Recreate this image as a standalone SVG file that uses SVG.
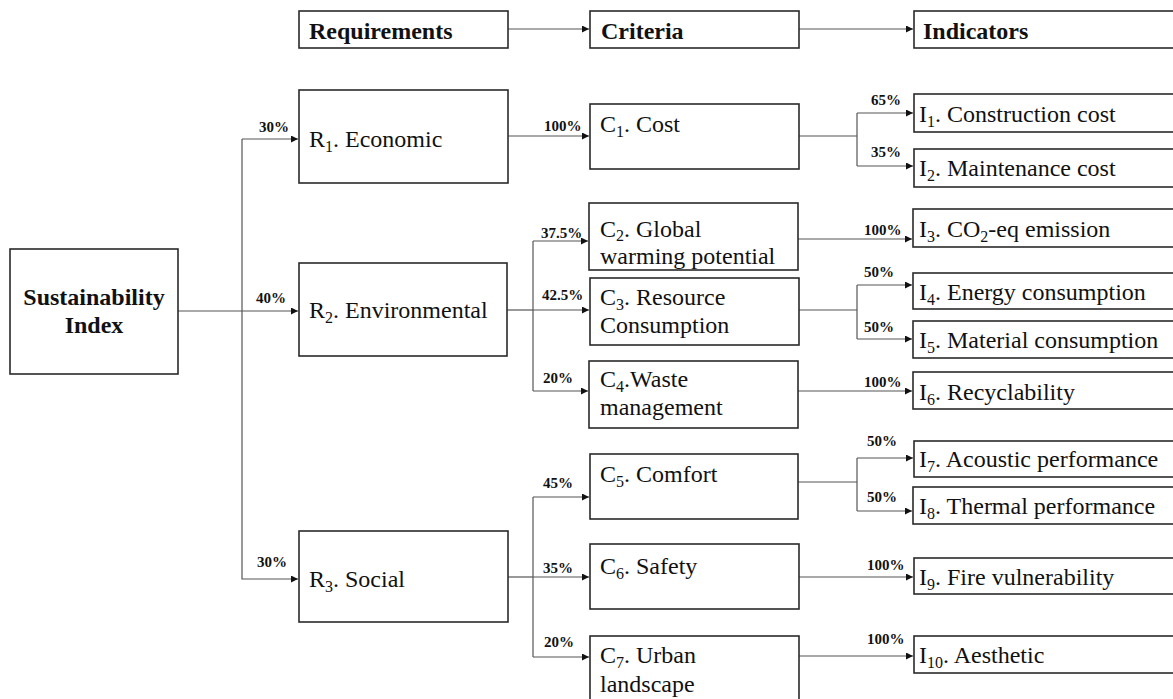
<svg xmlns="http://www.w3.org/2000/svg" width="1173" height="699" viewBox="0 0 1173 699">
<style>
.box{fill:#fff;stroke:#2a2a2a;stroke-width:1.6}
.t{font-size:24px;fill:#111}
.b{font-size:24px;font-weight:bold;fill:#111}
.p{font-size:15px;font-weight:bold;fill:#111}
.s{font-size:16px}
.c{fill:none;stroke:#555;stroke-width:1.2}
</style>
<defs>
<marker id="ah" markerUnits="userSpaceOnUse" markerWidth="8" markerHeight="8" refX="7" refY="3.5" orient="auto">
<path d="M0,0 L7,3.5 L0,7 z" fill="#111"/>
</marker>
</defs>
<rect width="1173" height="699" fill="#fff"/>

<g id="connectors">
<path class="c" d="M508,29 H589" marker-end="url(#ah)"/>
<path class="c" d="M799,29 H913" marker-end="url(#ah)"/>
<path class="c" d="M178,311 H298" marker-end="url(#ah)"/>
<path class="c" d="M242,139 V579 H298" marker-end="url(#ah)"/>
<path class="c" d="M242,139 H298" marker-end="url(#ah)"/>
<path class="c" d="M508,136 H589" marker-end="url(#ah)"/>
<path class="c" d="M799,136 H857"/>
<path class="c" d="M857,113 V166"/>
<path class="c" d="M857,113 H913" marker-end="url(#ah)"/>
<path class="c" d="M857,166 H913" marker-end="url(#ah)"/>
<path class="c" d="M507,310 H533"/>
<path class="c" d="M533,241 V391"/>
<path class="c" d="M533,241 H588" marker-end="url(#ah)"/>
<path class="c" d="M533,310 H589" marker-end="url(#ah)"/>
<path class="c" d="M533,391 H588" marker-end="url(#ah)"/>
<path class="c" d="M798,239 H912" marker-end="url(#ah)"/>
<path class="c" d="M799,310 H857"/>
<path class="c" d="M857,285 V339"/>
<path class="c" d="M857,285 H912" marker-end="url(#ah)"/>
<path class="c" d="M857,339 H912" marker-end="url(#ah)"/>
<path class="c" d="M798,391 H912" marker-end="url(#ah)"/>
<path class="c" d="M508,577 H533"/>
<path class="c" d="M533,497 V657"/>
<path class="c" d="M533,497 H589" marker-end="url(#ah)"/>
<path class="c" d="M533,577 H589" marker-end="url(#ah)"/>
<path class="c" d="M533,657 H589" marker-end="url(#ah)"/>
<path class="c" d="M798,482 H857"/>
<path class="c" d="M857,458 V511"/>
<path class="c" d="M857,458 H913" marker-end="url(#ah)"/>
<path class="c" d="M857,511 H912" marker-end="url(#ah)"/>
<path class="c" d="M799,577 H913" marker-end="url(#ah)"/>
<path class="c" d="M799,656 H913" marker-end="url(#ah)"/>
</g>

<g font-family="'Liberation Serif', 'Times New Roman', Times, serif">
<g id="labels">
<text class="p" x="259" y="132">30%</text>
<text class="p" x="256" y="303">40%</text>
<text class="p" x="257" y="567">30%</text>
<text class="p" x="544" y="131">100%</text>
<text class="p" x="871" y="105">65%</text>
<text class="p" x="871" y="157">35%</text>
<text class="p" x="541" y="238">37.5%</text>
<text class="p" x="542" y="300">42.5%</text>
<text class="p" x="543" y="383">20%</text>
<text class="p" x="864" y="235">100%</text>
<text class="p" x="864" y="277">50%</text>
<text class="p" x="864" y="332">50%</text>
<text class="p" x="864" y="387">100%</text>
<text class="p" x="543" y="488">45%</text>
<text class="p" x="543" y="573">35%</text>
<text class="p" x="544" y="647">20%</text>
<text class="p" x="867" y="446">50%</text>
<text class="p" x="867" y="502">50%</text>
<text class="p" x="867" y="570">100%</text>
<text class="p" x="867" y="644">100%</text>
</g>

<g id="hdr-requirements"><rect class="box" x="299" y="11" width="209" height="37"/><text class="b" x="309" y="39">Requirements</text></g>
<g id="hdr-criteria"><rect class="box" x="590" y="11" width="209" height="37"/><text class="b" x="601" y="39">Criteria</text></g>
<g id="hdr-indicators"><rect class="box" x="914" y="11" width="265" height="37"/><text class="b" x="923" y="39">Indicators</text></g>

<g id="si"><rect class="box" x="10" y="249" width="168" height="125"/>
<text class="b" x="94" y="305" text-anchor="middle">Sustainability</text>
<text class="b" x="94" y="333" text-anchor="middle">Index</text></g>

<g id="r1"><rect class="box" x="299" y="90" width="209" height="93"/><text class="t" x="309" y="147">R<tspan class="s" dy="5">1</tspan><tspan dy="-5">. Economic</tspan></text></g>
<g id="r2"><rect class="box" x="299" y="263" width="208" height="93"/><text class="t" x="309" y="318">R<tspan class="s" dy="5">2</tspan><tspan dy="-5">. Environmental</tspan></text></g>
<g id="r3"><rect class="box" x="299" y="531" width="209" height="91"/><text class="t" x="309" y="587">R<tspan class="s" dy="5">3</tspan><tspan dy="-5">. Social</tspan></text></g>

<g id="c1"><rect class="box" x="590" y="104" width="209" height="65"/><text class="t" x="600" y="132">C<tspan class="s" dy="5">1</tspan><tspan dy="-5">. Cost</tspan></text></g>
<g id="c2"><rect class="box" x="589" y="203" width="209" height="67"/><text class="t" x="600" y="237">C<tspan class="s" dy="4">2</tspan><tspan dy="-4">. Global</tspan></text><text class="t" x="600" y="264">warming potential</text></g>
<g id="c3"><rect class="box" x="590" y="278" width="209" height="67"/><text class="t" x="600" y="305">C<tspan class="s" dy="5">3</tspan><tspan dy="-5">. Resource</tspan></text><text class="t" x="600" y="333">Consumption</text></g>
<g id="c4"><rect class="box" x="589" y="361" width="209" height="67"/><text class="t" x="600" y="387">C<tspan class="s" dy="5">4</tspan><tspan dy="-5">.Waste</tspan></text><text class="t" x="600" y="415">management</text></g>
<g id="c5"><rect class="box" x="590" y="454" width="208" height="65"/><text class="t" x="600" y="482">C<tspan class="s" dy="5">5</tspan><tspan dy="-5">. Comfort</tspan></text></g>
<g id="c6"><rect class="box" x="590" y="544" width="209" height="65"/><text class="t" x="600" y="574">C<tspan class="s" dy="5">6</tspan><tspan dy="-5">. Safety</tspan></text></g>
<g id="c7"><rect class="box" x="590" y="636" width="209" height="80"/><text class="t" x="600" y="663">C<tspan class="s" dy="5">7</tspan><tspan dy="-5">. Urban</tspan></text><text class="t" x="600" y="692">landscape</text></g>

<g id="i1"><rect class="box" x="914" y="94" width="265" height="38"/><text class="t" x="919" y="122">I<tspan class="s" dy="5">1</tspan><tspan dy="-5">. Construction cost</tspan></text></g>
<g id="i2"><rect class="box" x="914" y="149" width="265" height="38"/><text class="t" x="919" y="176">I<tspan class="s" dy="5">2</tspan><tspan dy="-5">. Maintenance cost</tspan></text></g>
<g id="i3"><rect class="box" x="913" y="209" width="265" height="38"/><text class="t" x="919" y="237">I<tspan class="s" dy="5">3</tspan><tspan dy="-5">. CO</tspan><tspan class="s" dy="5">2</tspan><tspan dy="-5">-eq emission</tspan></text></g>
<g id="i4"><rect class="box" x="913" y="273" width="265" height="36"/><text class="t" x="919" y="300">I<tspan class="s" dy="5">4</tspan><tspan dy="-5">. Energy consumption</tspan></text></g>
<g id="i5"><rect class="box" x="913" y="321" width="265" height="37"/><text class="t" x="919" y="348">I<tspan class="s" dy="5">5</tspan><tspan dy="-5">. Material consumption</tspan></text></g>
<g id="i6"><rect class="box" x="913" y="372" width="265" height="37"/><text class="t" x="919" y="400">I<tspan class="s" dy="5">6</tspan><tspan dy="-5">. Recyclability</tspan></text></g>
<g id="i7"><rect class="box" x="914" y="441" width="265" height="36"/><text class="t" x="919" y="467">I<tspan class="s" dy="5">7</tspan><tspan dy="-5">. Acoustic performance</tspan></text></g>
<g id="i8"><rect class="box" x="913" y="487" width="265" height="37"/><text class="t" x="919" y="514">I<tspan class="s" dy="5">8</tspan><tspan dy="-5">. Thermal performance</tspan></text></g>
<g id="i9"><rect class="box" x="914" y="558" width="265" height="36"/><text class="t" x="919" y="585">I<tspan class="s" dy="5">9</tspan><tspan dy="-5">. Fire vulnerability</tspan></text></g>
<g id="i10"><rect class="box" x="914" y="636" width="265" height="37"/><text class="t" x="919" y="663">I<tspan class="s" dy="5">10</tspan><tspan dy="-5">. Aesthetic</tspan></text></g>
</g>
</svg>
